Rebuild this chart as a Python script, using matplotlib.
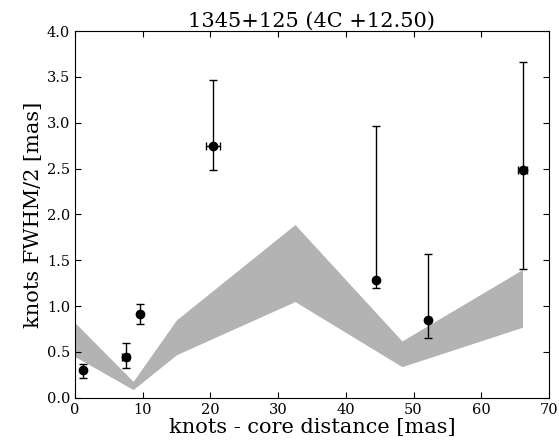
import matplotlib
matplotlib.use("Agg")
import matplotlib.pyplot as plt

# knot measurements
knot_dist = [1.2, 7.5, 9.65, 20.4, 44.4, 52.2, 66.1]
knot_dist_err = [0.0, 0.55, 0.0, 1.03, 0.0, 0.0, 0.6]
knot_size = [0.30, 0.44, 0.91, 2.75, 1.28, 0.85, 2.49]
knot_size_lo = [0.22, 0.32, 0.81, 2.49, 1.20, 0.65, 1.40]
knot_size_hi = [0.365, 0.60, 1.025, 3.47, 2.97, 1.57, 3.66]

# shaded band (resolution limit)
band_x = [0.0, 8.6, 15.0, 32.5, 48.3, 66.1]
band_lo = [0.45, 0.09, 0.47, 1.05, 0.34, 0.77]
band_hi = [0.82, 0.18, 0.85, 1.89, 0.62, 1.40]

plt.rcParams["font.family"] = "DejaVu Serif"
plt.rcParams["mathtext.fontset"] = "dejavuserif"

fig = plt.figure(figsize=(5.59, 4.44), dpi=100)
ax = fig.add_axes([0.134, 0.104, 0.848, 0.826])

ax.fill_between(band_x, band_lo, band_hi, color="#b3b3b3", linewidth=0)

yerr = [[s - lo for s, lo in zip(knot_size, knot_size_lo)],
        [hi - s for s, hi in zip(knot_size, knot_size_hi)]]
ax.errorbar(knot_dist, knot_size, xerr=knot_dist_err, yerr=yerr, fmt="o",
            color="black", ecolor="black", markersize=6, capsize=3,
            elinewidth=1, capthick=1)

ax.set_xlim(0, 70)
ax.set_ylim(0, 4.0)
ax.set_xticks(range(0, 71, 10))
ax.set_yticks([0.0, 0.5, 1.0, 1.5, 2.0, 2.5, 3.0, 3.5, 4.0])
ax.tick_params(direction="in", top=True, right=True, length=4, labelsize=10.5)
ax.set_xlabel("knots - core distance [mas]", fontsize=15, labelpad=1)
ax.set_ylabel("knots FWHM/2 [mas]", fontsize=15, labelpad=3)
ax.set_title("1345+125 (4C +12.50)", fontsize=15, pad=3)

fig.savefig("out.png", dpi=100)
